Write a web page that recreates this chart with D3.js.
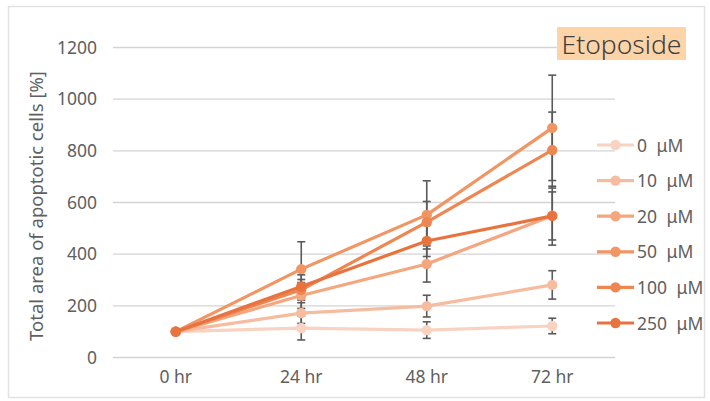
<!DOCTYPE html>
<html>
<head>
<meta charset="utf-8">
<script src="https://cdn.jsdelivr.net/npm/d3@7"></script>
<style>
  html, body { margin: 0; padding: 0; background: #fff; }
  svg { display: block; }
  text { font-family: "Noto Sans", "DejaVu Sans", sans-serif; }
</style>
</head>
<body>
<svg id="chart" width="710" height="401"></svg>
<script>
const categories = ["0 hr", "24 hr", "48 hr", "72 hr"];
const seriesNames = ["0 \u03BCM", "10 \u03BCM", "20 \u03BCM", "50 \u03BCM", "100 \u03BCM", "250 \u03BCM"];
const seriesColors = ["#F8D3C2", "#F6BC9F", "#F4A67E", "#F19563", "#EE8651", "#E8733F"];
const values0   = [100, 114, 106, 122];
const values10  = [100, 172, 199, 281];
const values20  = [100, 240, 362, 549];
const values50  = [100, 342, 552, 889];
const values100 = [100, 262, 524, 803];
const values250 = [100, 275, 451, 548];
const err0   = [0, 46, 32, 30];
const err10  = [0, 40, 42, 55];
const err20  = [0, 50, 70, 114];
const err50  = [0, 106, 132, 204];
const err100 = [0, 40, 80, 147];
const err250 = [0, 45, 60, 93];
const yTicks = [0, 200, 400, 600, 800, 1000, 1200];
const chartTitle = "Etoposide";
const yTitle = "Total area of apoptotic cells [%]";

const allValues = [values0, values10, values20, values50, values100, values250];
const allErrors = [err0, err10, err20, err50, err100, err250];

const svg = d3.select("#chart");
const FONT = '"Noto Sans", "DejaVu Sans", sans-serif';
const FS = "17.5px";

// outer frame
svg.append("rect").attr("x", 8.5).attr("y", 6.5).attr("width", 696).attr("height", 391)
  .attr("fill", "#fff").attr("stroke", "#e2e2e2").attr("stroke-width", 1.5);

const plotLeft = 113, plotRight = 615, plotTop = 47.5, plotBottom = 357.5;
const x = d3.scaleBand().domain(categories).range([plotLeft, plotRight]);
const y = d3.scaleLinear().domain([0, 1200]).range([plotBottom, plotTop]);
const cx = c => x(c) + x.bandwidth() / 2;

// gridlines
svg.append("g").selectAll("line").data(yTicks).join("line")
  .attr("x1", plotLeft).attr("x2", plotRight)
  .attr("y1", d => y(d)).attr("y2", d => y(d))
  .attr("stroke", "#d4d4d4").attr("stroke-width", 1.3);

// y axis tick labels
const yAxis = d3.axisLeft(y).tickValues(yTicks).tickFormat(d3.format("d")).tickSize(0).tickPadding(0);
const yg = svg.append("g").attr("transform", `translate(97,0)`).call(yAxis);
yg.select(".domain").remove();
yg.selectAll("text").attr("fill", "#606060").style("font-size", FS).style("font-family", FONT);

// x axis labels
const xAxis = d3.axisBottom(x).tickSize(0).tickPadding(0);
const xg = svg.append("g").attr("transform", `translate(0,371)`).call(xAxis);
xg.select(".domain").remove();
xg.selectAll("text").attr("fill", "#606060").style("font-size", FS).style("font-family", FONT);

// y title
svg.append("text")
  .attr("transform", `translate(43,206) rotate(-90)`)
  .attr("text-anchor", "middle")
  .attr("fill", "#606060").style("font-size", "18.5px")
  .text(yTitle);

// error bars
const eg = svg.append("g");
allValues.forEach((vals, si) => {
  vals.forEach((v, i) => {
    const e = allErrors[si][i];
    if (!e) return;
    const xx = cx(categories[i]);
    eg.append("line").attr("x1", xx).attr("x2", xx).attr("y1", y(v - e)).attr("y2", y(v + e))
      .attr("stroke", "#5a5a5a").attr("stroke-width", 1.6);
    [v - e, v + e].forEach(t => {
      eg.append("line").attr("x1", xx - 4).attr("x2", xx + 4).attr("y1", y(t)).attr("y2", y(t))
        .attr("stroke", "#5a5a5a").attr("stroke-width", 1.6);
    });
  });
});

// lines + markers
const line = d3.line().x((d, i) => cx(categories[i])).y(d => y(d));
allValues.forEach((vals, si) => {
  svg.append("path").datum(vals).attr("d", line)
    .attr("fill", "none").attr("stroke", seriesColors[si]).attr("stroke-width", 3.2)
    .attr("stroke-linejoin", "round");
  svg.append("g").selectAll("circle").data(vals).join("circle")
    .attr("cx", (d, i) => cx(categories[i])).attr("cy", d => y(d)).attr("r", 5.2)
    .attr("fill", seriesColors[si]);
});

// title with background
const tg = svg.append("g");
tg.append("rect").attr("x", 557).attr("y", 27).attr("width", 129).attr("height", 33).attr("fill", "#FDD3A8");
tg.append("text").attr("x", 621.5).attr("y", 54).attr("text-anchor", "middle")
  .attr("fill", "#404040").style("font-size", "26.5px").style("font-weight", 300).text(chartTitle);

// legend
const lg = svg.append("g");
const legendY = d3.scalePoint().domain(seriesNames).range([145, 323]);
seriesNames.forEach((name, si) => {
  const ly = legendY(name);
  lg.append("line").attr("x1", 597).attr("x2", 634).attr("y1", ly).attr("y2", ly)
    .attr("stroke", seriesColors[si]).attr("stroke-width", 3.2);
  lg.append("circle").attr("cx", 615.5).attr("cy", ly).attr("r", 5.2).attr("fill", seriesColors[si]);
  lg.append("text").attr("x", 637).attr("y", ly + 6.5).attr("fill", "#606060")
    .style("font-size", FS).style("word-spacing", "5px").text(name);
});
</script>
</body>
</html>
